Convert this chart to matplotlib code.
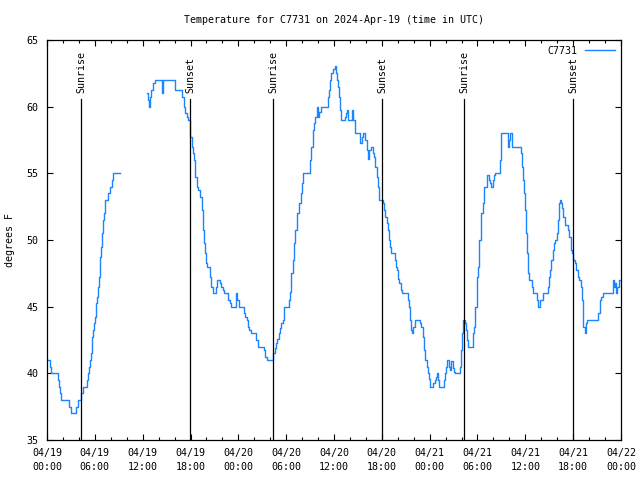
import numpy as np
import matplotlib
matplotlib.use("Agg")
import matplotlib.pyplot as plt

# hours since 04/19 00:00 UTC, temperature in F (nan = gap in the record)
hours = [
    0.0, 0.35, 0.55, 1.35, 1.45, 1.6, 1.8, 2.8, 2.95, 3.6, 3.85, 4.25, 4.5,
    5.0, 5.15, 5.3, 5.4, 5.5, 5.6, 5.7, 5.8, 5.9, 6.0, 6.1, 6.2, 6.3, 6.4,
    6.5, 6.6, 6.7, 6.8, 6.9, 7.0, 7.1, 7.3, 7.65, 7.85, 8.1, 8.3, 9.1, 9.1,
    12.58, 12.7, 12.79, 12.92, 13.05, 13.3, 13.55, 14.4, 14.6, 16.1, 16.95,
    17.15, 17.35, 17.5, 17.7, 17.98, 18.15, 18.3, 18.45, 18.6, 18.77, 19.0,
    19.2, 19.4, 19.55, 19.7, 19.85, 19.95, 20.1, 20.45, 20.62, 20.78, 21.15,
    21.28, 21.7, 21.86, 22.03, 22.2, 22.7, 22.95, 23.12, 23.7, 23.85, 24.05,
    24.75, 24.88, 25.05, 25.22, 25.38, 25.55, 26.25, 26.47, 27.2, 27.4,
    27.64, 28.35, 28.56, 28.73, 28.9, 29.06, 29.23, 29.4, 29.57, 29.73,
    30.35, 30.49, 30.65, 30.82, 30.99, 31.15, 31.32, 31.66, 31.82, 31.99,
    32.16, 33.05, 33.16, 33.33, 33.5, 33.66, 33.83, 34.0, 34.15, 34.33,
    35.2, 35.33, 35.5, 35.67, 35.92, 36.17, 36.3, 36.42, 36.55, 36.67, 36.8,
    36.84, 37.4, 37.51, 37.68, 37.8, 38.26, 38.35, 38.6, 38.68, 39.2, 39.3,
    39.45, 39.6, 39.85, 40.1, 40.27, 40.43, 40.6, 40.9, 41.02, 41.19, 41.36,
    41.52, 41.69, 42.1, 42.27, 42.44, 42.61, 42.75, 42.86, 43.03, 43.2,
    43.65, 43.75, 43.86, 44.03, 44.2, 44.36, 44.53, 45.3, 45.37, 45.54,
    45.7, 45.79, 45.95, 46.12, 46.8, 46.96, 47.12, 47.29, 47.46, 47.63,
    47.79, 47.96, 48.1, 48.46, 48.63, 48.8, 48.96, 49.1, 49.2, 49.75, 49.9,
    50.05, 50.2, 50.38, 50.55, 50.72, 50.88, 51.05, 51.22, 51.85, 51.95,
    52.05, 52.2, 52.4, 52.56, 52.72, 52.81, 53.4, 53.56, 53.73, 53.9, 54.06,
    54.23, 54.4, 54.48, 54.65, 54.81, 55.25, 55.4, 55.6, 55.73, 55.9, 56.07,
    56.23, 56.8, 56.9, 56.99, 57.82, 57.95, 58.05, 58.3, 59.45, 59.58,
    59.75, 59.83, 60.0, 60.08, 60.25, 60.33, 60.42, 60.8, 61.0, 61.42,
    61.59, 61.9, 62.17, 62.8, 62.92, 63.09, 63.26, 63.43, 63.59, 63.76,
    63.93, 64.09, 64.26, 64.35, 64.51, 64.6, 64.76, 64.93, 65.4, 65.52,
    65.68, 65.85, 66.02, 66.18, 66.35, 66.6, 66.77, 66.94, 67.1, 67.19,
    67.27, 67.44, 67.61, 67.77, 69.1, 69.36, 69.53, 69.7, 71.0, 71.12,
    71.25, 71.37, 71.54, 71.7, 72.0,
]
temps = [
    41, 40.5, 40, 39.5, 39, 38.5, 38, 37.5, 37, 37.5, 38, 38.5, 39,
    39.5, 40, 40.5, 41, 41.5, 42.25, 42.75, 43.25, 43.75, 44.25, 44.75, 45.25, 45.75, 46.5,
    47.25, 48, 48.75, 49.5, 50.5, 51.5, 52, 53, 53.5, 54, 54.5, 55, 55, np.nan,
    61, 60.5, 60, 60.75, 61.25, 61.75, 62, 61, 62, 61.25, 60.75,
    60, 59.5, 59.25, 59, 57.75, 57, 56.5, 56, 54.75, 54, 53.75,
    53.25, 52.25, 50.75, 49.75, 49, 48.25, 48, 47.25, 46.5, 46, 46.5,
    47, 46.75, 46.5, 46.25, 46, 45.5, 45.25, 45, 46, 45.5, 45,
    44.5, 44.25, 44, 43.5, 43.25, 43, 42.5, 42, 41.75, 41.25,
    41, 41.5, 41.9, 42.25, 42.6, 43, 43.4, 43.75, 44, 45,
    45.5, 46.1, 47.5, 48.5, 49.75, 50.75, 52, 52.75, 53.5, 54.25,
    55, 56, 57, 58.25, 58.75, 59.25, 60, 59.25, 59.6, 60,
    60.75, 61.25, 62, 62.5, 62.8, 63.05, 62.5, 62, 61.5, 60.75, 59.75,
    59, 59.25, 59.5, 59.75, 59, 59.75, 59, 58.5, 58, 57.5, 57.25,
    57.75, 58, 57.5, 56.75, 56.1, 56.75, 57, 56.5, 56.25, 55.5, 54.75,
    54, 53, 52.75, 52.25, 51.75, 51.25, 50.75, 50, 49.5, 49,
    48.5, 48, 47.75, 47.1, 46.75, 46.25, 46, 45.5, 45, 44,
    43.25, 43, 43.5, 44, 43.75, 43.5, 42.75, 41.75, 41, 40.5,
    40, 39.6, 39, 39.25, 39.5, 39.75, 40, 39.5, 39, 39.5, 40,
    40.5, 41, 40.5, 40.25, 40.9, 40.4, 40.1, 40, 40.5, 41.75,
    43, 44, 43.75, 43.25, 42.5, 42, 43, 43.5, 45, 47.25, 48,
    50, 51.4, 52, 52.75, 54, 54.9, 54.5, 54.25, 54, 54.5, 54.9,
    55, 56, 57, 58, 57, 57.5, 58, 57, 56.5, 55.5,
    54.5, 53.5, 52.25, 50.5, 49, 47.5, 47, 46.5, 46, 45.5,
    45, 45.5, 46, 46.5, 47.25, 47.75, 48.5, 49.25, 49.75, 50,
    50.5, 51.5, 52.75, 53, 52.75, 52.4, 51.75, 51.1, 50.75, 50.25,
    49.25, 49, 48.5, 48.25, 47.75, 47.25, 47, 46.5, 45.5, 44.5,
    43.5, 43, 43.75, 44, 44.5, 45.5, 45.75, 46, 47, 46.5,
    46.75, 46, 46.5, 47, 47,
]

sun_hours = [4.3, 17.98, 28.39, 42.06, 52.35, 66.02]
sun_labels = ["Sunrise", "Sunset", "Sunrise", "Sunset", "Sunrise", "Sunset"]

tick_hours = [0, 6, 12, 18, 24, 30, 36, 42, 48, 54, 60, 66, 72]
tick_labels = [
    "04/19\n00:00", "04/19\n06:00", "04/19\n12:00", "04/19\n18:00",
    "04/20\n00:00", "04/20\n06:00", "04/20\n12:00", "04/20\n18:00",
    "04/21\n00:00", "04/21\n06:00", "04/21\n12:00", "04/21\n18:00",
    "04/22\n00:00",
]

plt.rcParams["font.family"] = ["DejaVu Sans Mono"]
plt.rcParams["font.size"] = 7.2

fig = plt.figure(figsize=(6.4, 4.8), dpi=100)
ax = fig.add_axes([47 / 640, 40 / 480, 574 / 640, 400 / 480])

ax.plot(hours, temps, drawstyle="steps-post", color="#1a85ff", lw=1.0, label="C7731")

# sunrise / sunset markers
line_top = 0.853
for h, name in zip(sun_hours, sun_labels):
    ax.axvline(h, ymin=0, ymax=line_top, color="black", lw=0.9)
    ax.text(h, line_top + 0.015, name, rotation=90, ha="center", va="bottom",
            transform=ax.get_xaxis_transform(), fontsize=7.2)

ax.set_xlim(0, 72)
ax.set_ylim(35, 65)
ax.set_xticks(tick_hours)
ax.set_xticklabels(tick_labels)
for t in ax.get_xticklabels():
    t.set_linespacing(1.45)
ax.set_xticks(np.arange(0, 73, 2), minor=True)
ax.set_yticks([35, 40, 45, 50, 55, 60, 65])

ax.tick_params(which="both", direction="in", top=True, right=True, width=0.8)
ax.tick_params(which="major", length=4.5)
ax.tick_params(which="minor", length=2.5)
ax.tick_params(axis="x", which="major", pad=6)
ax.tick_params(axis="y", which="major", pad=6)
for s in ax.spines.values():
    s.set_linewidth(0.9)

ax.set_ylabel("degrees F")
ax.yaxis.set_label_coords(-0.055, 0.5)
ax.set_title("Temperature for C7731 on 2024-Apr-19 (time in UTC)", fontsize=7.2, pad=12)

ax.legend(loc="upper right", frameon=False, markerfirst=False, handlelength=3.0,
          handletextpad=0.8, borderaxespad=0.2, borderpad=0.4)

fig.savefig("out.png", dpi=100)
